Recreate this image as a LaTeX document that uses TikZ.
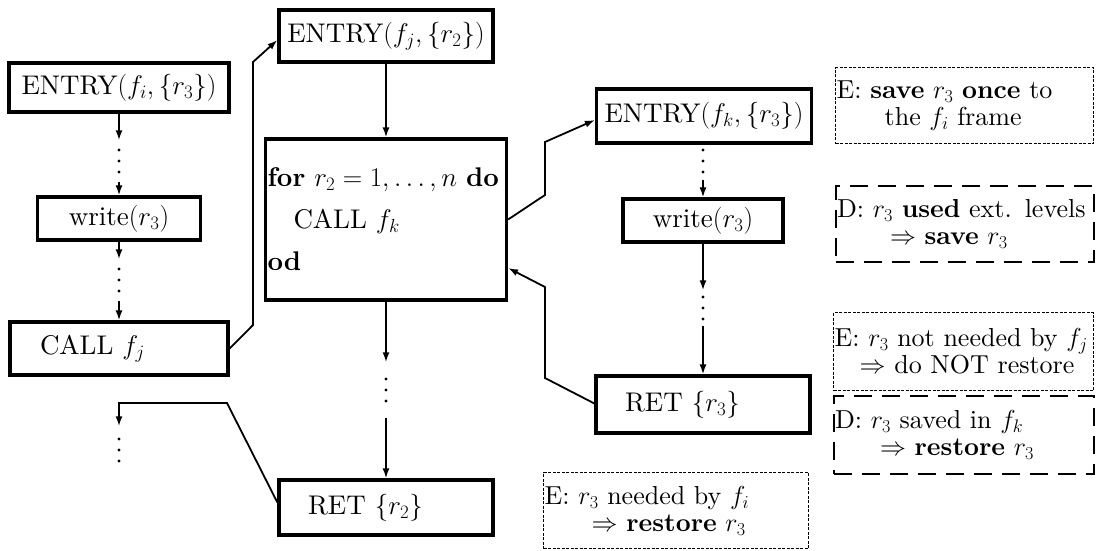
\RequirePackage{fix-cm}
\documentclass[tikz,border=0pt]{standalone}
% Latin Modern at its 10pt design size, used at every size
\DeclareFontFamily{TU}{lmten}{}
\DeclareFontShape{TU}{lmten}{m}{n}{<->\UnicodeFontFile{lmroman10-regular}{\UnicodeFontTeXLigatures}}{}
\DeclareFontShape{TU}{lmten}{m}{it}{<->\UnicodeFontFile{lmroman10-italic}{\UnicodeFontTeXLigatures}}{}
\DeclareFontShape{TU}{lmten}{b}{n}{<->\UnicodeFontFile{lmroman10-bold}{\UnicodeFontTeXLigatures}}{}
\DeclareFontShape{TU}{lmten}{bx}{n}{<->ssub * lmten/b/n}{}
\renewcommand{\rmdefault}{lmten}
\usetikzlibrary{arrows.meta}
\begin{document}
\begin{tikzpicture}[x=1pt,y=-1pt,
  every node/.style={font=\fontsize{27}{27}\selectfont},
  blk/.style={draw, line width=3.2pt, inner sep=0pt},
  lblk/.style={blk, align=left, inner xsep=#1},
  conn/.style={line width=1.8pt, -{Latex[length=10pt,width=7pt]}},
  % a column of three dots for omitted statements; #1 = gap above and below
  dotcol/.style={inner sep=0pt, minimum width=4pt, minimum height=25pt+2*#1,
    path picture={\foreach \k in {-11,0,11}
      \fill ([yshift=\k pt]path picture bounding box.center) circle[radius=1.7pt];}},
  note/.style={draw, line width=1.4pt, inner xsep=1pt, inner ysep=0pt,
    align=left, anchor=north west, minimum height=76pt,
    font=\fontsize{26}{27}\selectfont},
  finedash/.style={dash pattern=on 3pt off 1.5pt},
  longdash/.style={line width=2pt, dash pattern=on 18pt off 10pt}]
\useasboundingbox (0,0) rectangle (1096,550);

% caller f_i
\node[blk, minimum width=220pt, minimum height=49pt] (fi) at (119,87.5) {ENTRY$(f_i,\{r_3\})$};
\node[dotcol=8pt] (dl1) at (119,161) {};
\node[blk, minimum width=163pt, minimum height=43pt] (wl) at (119,218.5) {write$(r_3)$};
\node[dotcol=8pt] (dl2) at (119,280) {};
\node[lblk=30pt, text width=158pt, minimum height=53pt] (cj) at (119,348.5) {CALL $f_j$};
\node[dotcol=11pt] (dbl) at (119,450) {};

% callee f_j
\node[blk, minimum width=214pt, minimum height=52pt] (fj) at (386,36) {ENTRY$(f_j,\{r_2\})$};
\node[lblk=2pt, text width=237pt, minimum height=161pt,
  font=\fontsize{27}{42}\selectfont] (loop) at (386,219.5)
  {\textbf{for} $r_2=1,\ldots,n$ \textbf{do}\\ \hspace*{26pt}CALL $f_k$\\ \textbf{od}};
\node[dotcol=15pt] (dm) at (386,390) {};
\node[lblk=29pt, text width=156pt, minimum height=55pt] (r2) at (386,507.5) {RET $\{r_2\}$};

% callee f_k
\node[blk, minimum width=215pt, minimum height=54pt] (fk) at (704,116) {ENTRY$(f_k,\{r_3\})$};
\node[dotcol=6pt] (dk) at (703,161) {};
\node[blk, minimum width=160pt, minimum height=43pt] (wr) at (703,220.5) {write$(r_3)$};
\node[dotcol=5pt] (dr) at (703,308) {};
\node[lblk=29pt, text width=156pt, minimum height=57pt] (r3) at (703,404.5) {RET $\{r_3\}$};

% control flow inside each function
\draw[conn] (fi.south) -- (dl1.north);
\draw[conn] (dl1.south) -- (wl.north);
\draw[conn] (wl.south) -- (dl2.north);
\draw[conn] (dl2.south) -- (cj.north);
\draw[conn] (fj.south) -- (fj.south |- loop.north);
\draw[conn] (loop.south) -- (dm.north);
\draw[conn] (dm.south) -- (r2.north);
\draw[conn] (dk.south) -- (wr.north);
\draw[conn] (wr.south) -- (dr.north);
\draw[conn] (dr.south) -- (r3.north);

% calls and returns
\coordinate (back) at (0,268);
\draw[conn] (cj.east) -- (253,325) -- (253,62) -- ([yshift=-4pt]fj.west);
\draw[conn] (loop.east) -- (545,195) -- (545,142) -- ([yshift=-4pt]fk.west);
\draw[conn] ([yshift=1pt]r3.west) -- (545,378) -- (545,287) -- (loop.east |- back);
\draw[conn] ([yshift=5pt]r2.west) -- (227,403) -- (119,403) -- (dbl.north);

% remarks on saving and restoring r_3
\node[note, finedash, text width=256pt] (n1) at (835,67)
  {\mbox{E: \textbf{save} $r_3$ \textbf{once} to}\\ \hspace*{48pt}the $f_i$ frame};
\node[note, longdash, text width=256pt] (n2) at (835,185)
  {\mbox{D: $r_3$ \textbf{used} ext. levels}\\ \hspace*{53pt}$\Rightarrow$ \textbf{save} $r_3$};
\node[note, finedash, text width=258pt, minimum height=78pt] (n3) at (833,312)
  {\mbox{E: $r_3$ not needed by $f_j$}\\ \hspace*{25pt}$\Rightarrow$ do NOT restore};
\node[note, longdash, text width=258pt, minimum height=78pt] (n4) at (833,395)
  {\mbox{D: $r_3$ saved in $f_k$}\\ \hspace*{45pt}$\Rightarrow$ \textbf{restore} $r_3$};
\node[note, finedash, text width=263pt] (n5) at (543,472)
  {\mbox{E: $r_3$ needed by $f_i$}\\ \hspace*{47pt}$\Rightarrow$ \textbf{restore} $r_3$};
\end{tikzpicture}
\end{document}
